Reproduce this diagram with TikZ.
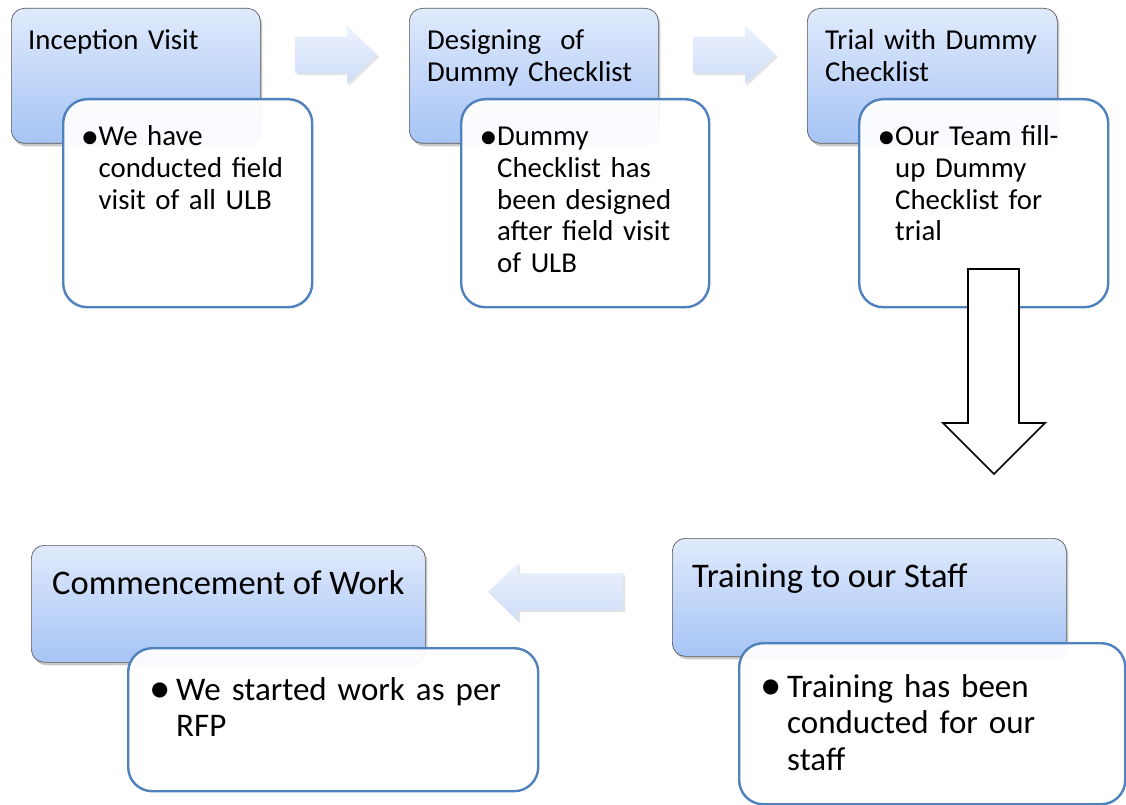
\documentclass[tikz,border=0pt]{standalone}
\usepackage{fontspec}
\setmainfont{Carlito}
\usetikzlibrary{shadows}
\definecolor{hdtop}{RGB}{224,234,252}
\definecolor{hdbot}{RGB}{166,196,245}
\definecolor{bodyline}{RGB}{79,129,189}
\definecolor{arrtop}{RGB}{236,242,253}
\definecolor{arrbot}{RGB}{207,221,250}
\newcommand\fnta{\fontsize{28.8}{31.6}\selectfont}
\newcommand\fntb{\fontsize{33}{36.6}\selectfont}
\newcommand\fntc{\fontsize{34.5}{37}\selectfont}
\newcommand\bulA{\llap{\raisebox{-3pt}{\scalebox{1.27}{\textbullet}}\hspace{-0.5pt}}}
\newcommand\bulB{\llap{\raisebox{-2.6pt}{\scalebox{1.3}{\textbullet}}\hspace{5.5pt}}}
\tikzset{
  headbox/.style={draw=black!65, line width=0.7pt, rounded corners=13pt,
    top color=hdtop, bottom color=hdbot, anchor=north west, inner sep=0pt,
    drop shadow={shadow xshift=2pt, shadow yshift=-3pt, opacity=0.3, fill=black!70}},
  bodybox/.style={draw=bodyline, line width=2.4pt, fill=white, fill opacity=0.94,
    rounded corners=24pt, anchor=north west, inner sep=0pt},
  blockarrow/.style={top color=arrtop, bottom color=arrbot, draw=none,
    drop shadow={shadow xshift=2pt, shadow yshift=-2pt, opacity=0.18, fill=black!60}},
  downarrow/.style={draw=black, line width=1.6pt, fill=white, line join=miter},
  titleA/.style={anchor=base west, inner sep=0pt, font=\fnta, align=left, text width=240pt},
  titleB/.style={anchor=base west, inner sep=0pt, font=\fntc},
  bodyA/.style={anchor=base west, inner sep=0pt, font=\fnta, align=left, text width=200pt},
  bodyB/.style={anchor=base west, inner sep=0pt, font=\fntb, align=left, text width=340pt},
}
\begin{document}
\begin{tikzpicture}[x=1pt, y=-1pt]
\useasboundingbox (0,0) rectangle (1126,805);
\fill[white] (0,0) rectangle (1126,805);

% top row
\node[headbox, minimum width=249pt, minimum height=135pt] (h1) at (11,8) {};
\node[bodybox, minimum width=249pt, minimum height=208pt] (b1) at (62,98) {};
\node[headbox, minimum width=249pt, minimum height=135pt] (h2) at (409,8) {};
\node[bodybox, minimum width=248pt, minimum height=208pt] (b2) at (460,98) {};
\node[headbox, minimum width=250pt, minimum height=135pt] (h3) at (807,8) {};
\node[bodybox, minimum width=249pt, minimum height=208pt] (b3) at (858,98) {};

\node[titleA] (t1) at (28,50) {Inception Visit};
\node[titleA] (t2) at (427,50) {Designing\ \ of\\Dummy Checklist};
\node[titleA] (t3) at (825,50) {Trial with Dummy\\Checklist};

\node[bodyA] (x1) at (98.5,146) {\bulA We have\\conducted field\\visit of all ULB};
\node[bodyA] (x2) at (497,146) {\bulA Dummy\\Checklist has\\been designed\\after field visit\\of ULB};
\node[bodyA] (x3) at (895,146) {\bulA Our Team fill-\\up Dummy\\Checklist for\\trial};

% top arrows
\path[blockarrow] (295,37) -- (347,37) -- (347,26) -- (377,55) -- (347,84) -- (347,73) -- (295,73) -- cycle;
\path[blockarrow] (693,37) -- (745,37) -- (745,26) -- (776,55) -- (745,84) -- (745,73) -- (693,73) -- cycle;

% down arrow
\draw[downarrow] (968,269) -- (1019,269) -- (1019,423) -- (1045,423) -- (994,474) -- (943,423) -- (968,423) -- cycle;

% bottom row
\node[headbox, minimum width=394pt, minimum height=118pt] (h4) at (672,538) {};
\node[bodybox, minimum width=386pt, minimum height=161pt] (b4) at (738,642) {};
\node[headbox, minimum width=394pt, minimum height=117pt] (h5) at (31,545) {};
\node[bodybox, minimum width=410pt, minimum height=143pt] (b5) at (127,647) {};

\node[titleB] (t4) at (692,587) {Training to our Staff};
\node[titleB] (t5) at (52,594) {Commencement of Work};

\node[bodyB] (x4) at (787,697) {\bulB Training has been\\conducted for our\\staff};
\node[bodyB] (x5) at (176,700) {\bulB We started work as per\\RFP};

% bottom arrow
\path[blockarrow] (623,573) -- (518,573) -- (518,563) -- (488,592) -- (518,621) -- (518,610) -- (623,610) -- cycle;
\end{tikzpicture}
\end{document}
